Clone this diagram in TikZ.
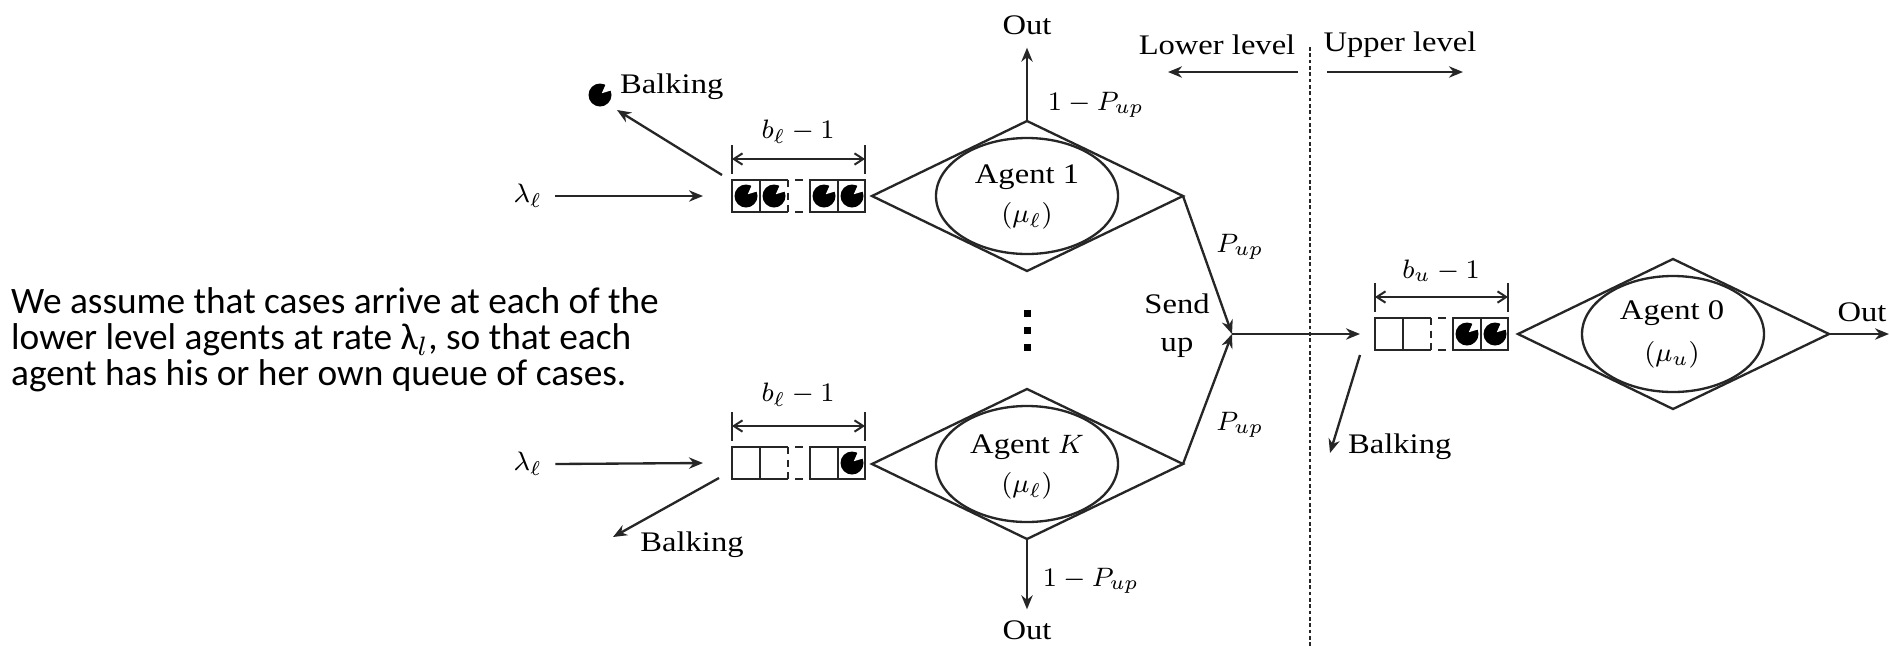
\documentclass[tikz,border=0pt]{standalone}
\usepackage{fontspec}
\setmainfont{Liberation Serif}
\newfontfamily\figfont{Liberation Serif}[FakeStretch=1.15]
\newfontfamily\carlitofont{Carlito}
\usetikzlibrary{arrows.meta,calc}
\begin{document}
\begin{tikzpicture}[x=0.3pt,y=-0.3pt, line width=0.7pt, draw=black!85,
  every node/.style={font=\figfont\fontsize{8.5}{10}\selectfont, inner sep=0pt, text=black},
  >={Stealth[length=4.2pt,width=3.4pt]},
  arr/.style={->, line width=0.7pt, draw=black!85},
  dimarrow/.style={{Straight Barb[length=2.6pt,width=3.4pt]}-{Straight Barb[length=2.6pt,width=3.4pt]}, line width=0.6pt},
  ball/.pic={\fill[black] (0,0) circle (11.5);
             \fill[white] (-45:2.5) -- (-22:13) arc[start angle=-22,end angle=-62,radius=13] -- cycle;},
  queue/.pic={
    \draw (56,-16) -- (0,-16) -- (0,16) -- (56,16);
    \draw (28,-16) -- (28,16);
    \draw[dash pattern=on 2.2pt off 1.6pt] (56,-16) -- (56,16);
    \draw (63,-16) -- (71,-16) (63,16) -- (71,16);
    \draw (78,-16) rectangle (133,16);
    \draw (106,-16) -- (106,16);
    \draw (0,-51) -- (0,-22) (133,-51) -- (133,-22);
    \draw[dimarrow] (0,-37) -- (133,-37);
  },
  agentshape/.pic={
    \draw (-155,0) -- (0,-75) -- (156,0) -- (0,75) -- cycle;
    \draw (0,0) ellipse [x radius=91, y radius=58];
  }]
\useasboundingbox (0,0) rectangle (1890,646);

% explanatory text
\node[anchor=north west, align=left, font=\carlitofont\fontsize{11.2}{10.9}\selectfont] (txt) at (10,286)
  {We assume that cases arrive at each of the\\ lower level agents at rate λ$_{l}$, so that each\\ agent has his or her own queue of cases.};

% ---------- Agent 1 ----------
\coordinate (A1) at (1027,196);
\pic at (A1) {agentshape};
\coordinate (A1n) at ($(A1)+(0,-75)$);
\coordinate (A1e) at ($(A1)+(156,0)$);
\node (A1t) at (1027,177) {Agent 1};
\node (A1m) at (1027,216) {$(\mu_\ell)$};

% ---------- Agent K ----------
\coordinate (AK) at (1027,464);
\pic at (AK) {agentshape};
\coordinate (AKs) at ($(AK)+(0,75)$);
\coordinate (AKe) at ($(AK)+(156,0)$);
\node (AKt) at (1027,447) {Agent $K$};
\node (AKm) at (1027,486) {$(\mu_\ell)$};

% ---------- Agent 0 ----------
\coordinate (A0) at (1673,334);
\pic at (A0) {agentshape};
\coordinate (A0e) at ($(A0)+(156,0)$);
\node (A0t) at (1672,313) {Agent 0};
\node (A0m) at (1672,355) {$(\mu_u)$};

% ---------- queues ----------
\coordinate (Q1) at (732,196);
\pic at (Q1) {queue};
\foreach \dx in {14,42,92,120} {\pic at ($(Q1)+(\dx,0)$) {ball};}
\node (b1) at ($(Q1)+(66,-64)$) {$b_\ell - 1$};

\coordinate (QK) at (732,463);
\pic at (QK) {queue};
\pic at ($(QK)+(120,0)$) {ball};
\node (bK) at ($(QK)+(66,-68)$) {$b_\ell - 1$};

\coordinate (Q0) at (1375,334);
\pic at (Q0) {queue};
\foreach \dx in {92,120} {\pic at ($(Q0)+(\dx,0)$) {ball};}
\node (b0) at ($(Q0)+(66,-63)$) {$b_u - 1$};

% ---------- arrivals ----------
\node (L1) at (528,196) {$\lambda_\ell$};
\draw[arr] ($(L1.east)+(12,0)$) -- ($(Q1)+(-29,0)$);
\node (LK) at (528,464) {$\lambda_\ell$};
\draw[arr] ($(LK.east)+(12,0)$) -- ($(QK)+(-29,0)$);

% ---------- balking ----------
\coordinate (B1e) at (617,110);
\draw[arr] ($(Q1)+(-10,-21)$) -- (B1e);
\pic at (600,95) {ball};
\node[anchor=west] (B1t) at (619,87) {Balking};

\coordinate (BKe) at (613,537);
\draw[arr] ($(QK)+(-13,15)$) -- (BKe);
\node (BKt) at (692,545) {Balking};

\coordinate (B0e) at (1330,453);
\draw[arr] ($(Q0)+(-15,21)$) -- (B0e);
\node[anchor=west] (B0t) at (1347,447) {Balking};

% ---------- outs ----------
\node (O1) at (1027,25) {Out};
\draw[arr] (A1n) -- ($(O1.south)+(0,12)$);
\node (O1p) at (1096,105) {$1-P_{up}$};

\node (OK) at (1027,630) {Out};
\draw[arr] (AKs) -- ($(OK.north)+(0,-10)$);
\node (OKp) at (1091,581) {$1-P_{up}$};

\node (O0) at (1862,312) {Out};
\coordinate (O0e) at (1889,334);
\draw[arr] (A0e) -- (O0e);

% ---------- send up ----------
\coordinate (J) at (1232,334);
\draw[arr] (A1e) -- (J);
\draw[arr] (AKe) -- (J);
\draw[arr] (J) -- ($(Q0)+(-15,0)$);
\node (P1) at (1240,247) {$P_{up}$};
\node (PK) at (1240,425) {$P_{up}$};
\node[align=center, font=\figfont\fontsize{8.5}{11.5}\selectfont] (send) at (1177,326) {Send\\up};

% vertical dots
\foreach \yy in {313,330,347} {\fill[black] (1023.5,\yy-3.5) rectangle +(7,7);}

% ---------- level divider ----------
\node (LL) at (1217,45) {Lower level};
\node (UL) at (1400,45) {Upper level};
\draw[arr] ($(LL)+(81,27)$) -- ($(LL)+(-49,27)$);
\draw[arr] ($(UL)+(-73,27)$) -- ($(UL)+(63,27)$);
\draw[line width=0.5pt, dash pattern=on 1.1pt off 0.8pt] (1310,47) -- (1310,646);
\end{tikzpicture}
\end{document}
